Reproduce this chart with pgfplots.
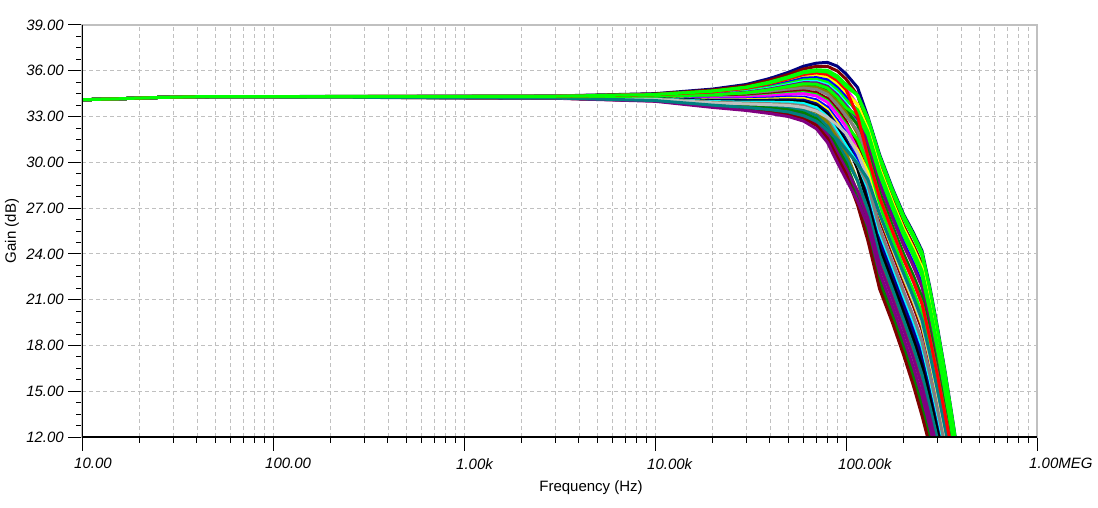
\documentclass[border=0pt]{standalone}
\usepackage{fontspec}
\setmainfont{Liberation Sans}
\usepackage{pgfplots}
\pgfplotsset{compat=1.18}
\definecolor{cnavy}{RGB}{0,0,128}
\definecolor{cmaroon}{RGB}{128,0,0}
\definecolor{clime}{RGB}{0,255,0}
\definecolor{cmagenta}{RGB}{255,0,255}
\definecolor{cyellow}{RGB}{255,255,0}
\definecolor{cblue}{RGB}{0,0,255}
\definecolor{ccyan}{RGB}{0,255,255}
\definecolor{cpurple}{RGB}{128,0,128}
\definecolor{cdkgreen}{RGB}{0,128,0}
\definecolor{colive}{RGB}{128,128,0}
\definecolor{cgrey}{RGB}{128,128,128}
\definecolor{csilver}{RGB}{192,192,192}
\definecolor{cteal}{RGB}{0,128,128}
\definecolor{cred}{RGB}{255,0,0}
\definecolor{gridgray}{RGB}{192,192,192}
\begin{document}
\begin{tikzpicture}
\begin{axis}[
  scale only axis, width=955pt, height=412pt,
  xmode=log, log basis x=10,
  xmin=10, xmax=1000000, ymin=12, ymax=39,
  axis line style={gridgray, line width=1.2pt},
  xtick pos=left, ytick pos=left,
  tick align=inside,
  xtick={10,100,1000,10000,100000,1000000},
  xticklabels={10.00,100.00,1.00k,10.00k,100.00k,1.00MEG},
  minor xtick={20,30,40,50,60,70,80,90,200,300,400,500,600,700,800,900,2000,3000,4000,5000,6000,7000,8000,9000,20000,30000,40000,50000,60000,70000,80000,90000,200000,300000,400000,500000,600000,700000,800000,900000},
  ytick={12,15,18,21,24,27,30,33,36,39},
  yticklabels={12.00,15.00,18.00,21.00,24.00,27.00,30.00,33.00,36.00,39.00},
  minor y tick num=3,
  major tick length=-14pt, minor tick length=-6pt,
  tick style={black, line width=1pt},
  xmajorgrids=true, xminorgrids=true, ymajorgrids=true, yminorgrids=false,
  grid style={color=gridgray, line width=0.9pt, dash pattern=on 4pt off 3pt},
  xticklabel style={font=\fontsize{15}{18}\selectfont\itshape, anchor=north west, inner sep=0pt, xshift=-8pt, yshift=-21pt},
  yticklabel style={font=\fontsize{15}{18}\selectfont\itshape, anchor=east, inner sep=0pt, xshift=-18pt},
  xlabel={Frequency (Hz)},
  ylabel={Gain (dB)},
  every axis x label/.style={at={(axis description cs:0.533,0)}, anchor=center, yshift=-51pt, font=\fontsize{15}{18}\selectfont},
  every axis y label/.style={at={(axis description cs:0,0.5)}, anchor=center, xshift=-70pt, rotate=90, font=\fontsize{15}{18}\selectfont},
  every axis plot/.append style={line width=3pt, line join=round, mark=none},
]
\addplot[colive] coordinates {(10,34.1)(15,34.16)(25,34.25)(40,34.3)(3000,34.21)(10000,34.04)(20000,33.7)(30000,33.54)(40000,33.38)(50000,33.23)(60000,32.99)(70000,32.54)(80000,31.72)(90000,30.5)(100000,29.45)(115000,27.63)(130000,25.55)(150000,22.4)(175000,20.2)(200000,18.14)(225000,16.2)(250000,14.26)(275000,12.23)(300000,10.28)};
\addplot[cdkgreen] coordinates {(10,34.1)(15,34.16)(25,34.25)(40,34.3)(3000,34.22)(10000,34.06)(20000,33.74)(30000,33.6)(40000,33.48)(50000,33.35)(60000,33.13)(70000,32.72)(80000,31.93)(90000,30.76)(100000,29.73)(115000,27.32)(130000,25.22)(150000,22.05)(175000,19.85)(200000,17.77)(225000,15.8)(250000,13.83)(275000,11.82)};
\addplot[cnavy] coordinates {(10,34.1)(15,34.16)(25,34.25)(40,34.3)(3000,34.35)(10000,34.5)(20000,34.8)(30000,35.1)(40000,35.5)(50000,35.9)(60000,36.3)(70000,36.5)(80000,36.55)(90000,36.3)(100000,35.8)(115000,34.9)(130000,33.0)(150000,30.5)(175000,28.3)(200000,26.6)(225000,25.4)(250000,24.2)(275000,21.8)(300000,19.3)(330000,16.3)(360000,13.3)(400000,9.5)};
\addplot[cmaroon] coordinates {(10,34.1)(15,34.16)(25,34.25)(40,34.3)(3000,34.34)(10000,34.48)(20000,34.74)(30000,35.02)(40000,35.39)(50000,35.76)(60000,36.12)(70000,36.29)(80000,36.29)(90000,35.99)(100000,35.46)(115000,34.39)(130000,32.35)(150000,29.8)(175000,27.6)(200000,25.86)(225000,24.6)(250000,23.34)(275000,20.97)(300000,18.52)(330000,15.6)(360000,12.72)(400000,9.06)};
\addplot[clime] coordinates {(10,34.1)(15,34.16)(25,34.25)(40,34.3)(3000,34.34)(10000,34.45)(20000,34.68)(30000,34.93)(40000,35.27)(50000,35.61)(60000,35.94)(70000,36.07)(80000,36.03)(90000,35.67)(100000,35.11)(115000,34.39)(130000,32.76)(150000,30.24)(175000,28.04)(200000,26.32)(225000,25.1)(250000,23.88)(275000,21.49)(300000,19.0)(330000,16.04)(360000,13.08)(400000,9.34)};
\addplot[cmagenta] coordinates {(10,34.1)(15,34.16)(25,34.25)(40,34.3)(3000,34.33)(10000,34.43)(20000,34.63)(30000,34.86)(40000,35.18)(50000,35.49)(60000,35.8)(70000,35.9)(80000,35.82)(90000,35.42)(100000,34.83)(115000,33.76)(130000,31.79)(150000,29.18)(175000,26.98)(200000,25.22)(225000,23.9)(250000,22.58)(275000,20.24)(300000,17.83)(330000,14.98)(360000,12.2)(400000,8.68)};
\addplot[cyellow] coordinates {(10,34.1)(15,34.16)(25,34.25)(40,34.3)(3000,34.32)(10000,34.41)(20000,34.58)(30000,34.79)(40000,35.09)(50000,35.38)(60000,35.65)(70000,35.73)(80000,35.6)(90000,35.17)(100000,34.56)(115000,33.79)(130000,32.19)(150000,29.62)(175000,27.42)(200000,25.68)(225000,24.4)(250000,23.12)(275000,20.76)(300000,18.32)(330000,15.42)(360000,12.57)(400000,8.95)};
\addplot[cblue] coordinates {(10,34.1)(15,34.16)(25,34.25)(40,34.3)(3000,34.32)(10000,34.39)(20000,34.54)(30000,34.73)(40000,34.99)(50000,35.26)(60000,35.51)(70000,35.55)(80000,35.4)(90000,34.91)(100000,34.28)(115000,33.24)(130000,31.38)(150000,28.74)(175000,26.54)(200000,24.76)(225000,23.4)(250000,22.04)(275000,19.72)(300000,17.34)(330000,14.54)(360000,11.84)(400000,8.4)};
\addplot[clime] coordinates {(10,34.1)(15,34.16)(25,34.25)(40,34.3)(3000,34.31)(10000,34.38)(20000,34.5)(30000,34.68)(40000,34.93)(50000,35.18)(60000,35.4)(70000,35.43)(80000,35.24)(90000,34.73)(100000,34.08)(115000,33.44)(130000,32.03)(150000,29.44)(175000,27.24)(200000,25.5)(225000,24.2)(250000,22.9)(275000,20.55)(300000,18.12)(330000,15.24)(360000,12.42)(400000,8.84)};
\addplot[ccyan] coordinates {(10,34.1)(15,34.16)(25,34.25)(40,34.3)(3000,34.31)(10000,34.36)(20000,34.46)(30000,34.62)(40000,34.86)(50000,35.09)(60000,35.29)(70000,35.3)(80000,35.08)(90000,34.54)(100000,33.87)(115000,32.61)(130000,30.57)(150000,27.86)(175000,25.66)(200000,23.84)(225000,22.4)(250000,20.96)(275000,18.68)(300000,16.36)(330000,13.66)(360000,11.11)(400000,7.85)};
\addplot[cpurple] coordinates {(10,34.1)(15,34.16)(25,34.25)(40,34.3)(3000,34.31)(10000,34.35)(20000,34.44)(30000,34.59)(40000,34.81)(50000,35.03)(60000,35.22)(70000,35.21)(80000,34.98)(90000,34.41)(100000,33.73)(115000,32.85)(130000,31.22)(150000,28.56)(175000,26.36)(200000,24.58)(225000,23.2)(250000,21.82)(275000,19.51)(300000,17.14)(330000,14.36)(360000,11.69)(400000,8.29)};
\addplot[cdkgreen] coordinates {(10,34.1)(15,34.16)(25,34.25)(40,34.3)(3000,34.3)(10000,34.33)(20000,34.39)(30000,34.52)(40000,34.72)(50000,34.91)(60000,35.08)(70000,35.04)(80000,34.77)(90000,34.16)(100000,33.45)(115000,32.45)(130000,30.73)(150000,28.04)(175000,25.84)(200000,24.02)(225000,22.6)(250000,21.18)(275000,18.89)(300000,16.56)(330000,13.84)(360000,11.26)(400000,7.96)};
\addplot[colive] coordinates {(10,34.1)(15,34.16)(25,34.25)(40,34.3)(3000,34.29)(10000,34.32)(20000,34.36)(30000,34.47)(40000,34.65)(50000,34.83)(60000,34.97)(70000,34.91)(80000,34.61)(90000,33.97)(100000,33.25)(115000,31.86)(130000,29.76)(150000,26.98)(175000,24.78)(200000,22.92)(225000,21.4)(250000,19.88)(275000,17.64)(300000,15.38)(330000,12.78)(360000,10.38)(400000,7.3)};
\addplot[cgrey] coordinates {(10,34.1)(15,34.16)(25,34.25)(40,34.3)(3000,34.29)(10000,34.3)(20000,34.32)(30000,34.42)(40000,34.58)(50000,34.74)(60000,34.86)(70000,34.78)(80000,34.45)(90000,33.78)(100000,33.04)(115000,32.06)(130000,30.41)(150000,27.68)(175000,25.48)(200000,23.66)(225000,22.2)(250000,20.74)(275000,18.47)(300000,16.16)(330000,13.48)(360000,10.96)(400000,7.74)};
\addplot[cmaroon] coordinates {(10,34.1)(15,34.16)(25,34.25)(40,34.3)(3000,34.28)(10000,34.28)(20000,34.26)(30000,34.34)(40000,34.47)(50000,34.6)(60000,34.68)(70000,34.57)(80000,34.19)(90000,33.47)(100000,32.7)(115000,31.23)(130000,29.11)(150000,26.28)(175000,24.08)(200000,22.18)(225000,20.6)(250000,19.02)(275000,16.81)(300000,14.6)(330000,12.08)(360000,9.8)};
\addplot[clime] coordinates {(10,34.1)(15,34.16)(25,34.25)(40,34.3)(3000,34.28)(10000,34.26)(20000,34.22)(30000,34.28)(40000,34.4)(50000,34.51)(60000,34.57)(70000,34.44)(80000,34.03)(90000,33.28)(100000,32.49)(115000,31.5)(130000,29.92)(150000,27.16)(175000,24.96)(200000,23.1)(225000,21.6)(250000,20.1)(275000,17.85)(300000,15.58)(330000,12.96)(360000,10.53)};
\addplot[cmagenta] coordinates {(10,34.1)(15,34.16)(25,34.25)(40,34.3)(3000,34.28)(10000,34.25)(20000,34.2)(30000,34.25)(40000,34.35)(50000,34.45)(60000,34.5)(70000,34.35)(80000,33.93)(90000,33.15)(100000,32.35)(115000,30.75)(130000,28.55)(150000,25.66)(175000,23.46)(200000,21.54)(225000,19.9)(250000,18.26)(275000,16.08)(300000,13.91)(330000,11.46)(360000,9.29)};
\addplot[cblue] coordinates {(10,34.1)(15,34.16)(25,34.25)(40,34.3)(3000,34.27)(10000,34.22)(20000,34.13)(30000,34.15)(40000,34.21)(50000,34.28)(60000,34.28)(70000,34.09)(80000,33.61)(90000,32.77)(100000,31.94)(115000,30.32)(130000,28.14)(150000,25.22)(175000,23.02)(200000,21.08)(225000,19.4)(250000,17.72)(275000,15.56)(300000,13.42)(330000,11.02)(360000,8.92)};
\addplot[cyellow] coordinates {(10,34.1)(15,34.16)(25,34.25)(40,34.3)(3000,34.26)(10000,34.21)(20000,34.09)(30000,34.1)(40000,34.14)(50000,34.19)(60000,34.18)(70000,33.96)(80000,33.45)(90000,32.58)(100000,31.73)(115000,30.79)(130000,29.36)(150000,26.54)(175000,24.34)(200000,22.46)(225000,20.9)(250000,19.34)(275000,17.12)(300000,14.89)(330000,12.34)(360000,10.02)};
\addplot[cnavy] coordinates {(10,34.1)(15,34.16)(25,34.25)(40,34.3)(3000,34.26)(10000,34.19)(20000,34.06)(30000,34.05)(40000,34.07)(50000,34.1)(60000,34.07)(70000,33.83)(80000,33.3)(90000,32.39)(100000,31.52)(115000,29.88)(130000,27.74)(150000,24.78)(175000,22.58)(200000,20.62)(225000,18.9)(250000,17.18)(275000,15.04)(300000,12.93)(330000,10.58)};
\addplot[black] coordinates {(10,34.1)(15,34.16)(25,34.25)(40,34.3)(3000,34.25)(10000,34.18)(20000,34.02)(30000,34.0)(40000,34.01)(50000,34.02)(60000,33.96)(70000,33.71)(80000,33.14)(90000,32.21)(100000,31.32)(115000,29.57)(130000,27.33)(150000,24.34)(175000,22.14)(200000,20.16)(225000,18.4)(250000,16.64)(275000,14.52)(300000,12.44)(330000,10.14)};
\addplot[ccyan] coordinates {(10,34.1)(15,34.16)(25,34.25)(40,34.3)(3000,34.25)(10000,34.16)(20000,33.98)(30000,33.94)(40000,33.94)(50000,33.93)(60000,33.85)(70000,33.58)(80000,32.98)(90000,32.02)(100000,31.11)(115000,29.92)(130000,28.3)(150000,25.4)(175000,23.2)(200000,21.26)(225000,19.6)(250000,17.94)(275000,15.77)(300000,13.62)(330000,11.2)};
\addplot[cgrey] coordinates {(10,34.1)(15,34.16)(25,34.25)(40,34.3)(3000,34.24)(10000,34.14)(20000,33.94)(30000,33.88)(40000,33.84)(50000,33.81)(60000,33.71)(70000,33.4)(80000,32.77)(90000,31.76)(100000,30.83)(115000,29.88)(130000,28.55)(150000,25.66)(175000,23.46)(200000,21.54)(225000,19.9)(250000,18.26)(275000,16.08)(300000,13.91)(330000,11.46)};
\addplot[colive] coordinates {(10,34.1)(15,34.16)(25,34.25)(40,34.3)(3000,34.24)(10000,34.13)(20000,33.9)(30000,33.83)(40000,33.78)(50000,33.73)(60000,33.6)(70000,33.28)(80000,32.61)(90000,31.58)(100000,30.63)(115000,28.78)(130000,26.52)(150000,23.46)(175000,21.26)(200000,19.24)(225000,17.4)(250000,15.56)(275000,13.48)(300000,11.46)(330000,9.26)};
\addplot[cteal] coordinates {(10,34.1)(15,34.16)(25,34.25)(40,34.3)(3000,34.23)(10000,34.1)(20000,33.84)(30000,33.74)(40000,33.66)(50000,33.58)(60000,33.42)(70000,33.06)(80000,32.35)(90000,31.26)(100000,30.28)(115000,28.78)(130000,26.93)(150000,23.9)(175000,21.7)(200000,19.7)(225000,17.9)(250000,16.1)(275000,14.0)(300000,11.95)(330000,9.7)};
\addplot[cdkgreen] coordinates {(10,34.1)(15,34.16)(25,34.25)(40,34.3)(3000,34.22)(10000,34.08)(20000,33.78)(30000,33.66)(40000,33.55)(50000,33.44)(60000,33.24)(70000,32.85)(80000,32.09)(90000,30.95)(100000,29.94)(115000,27.99)(130000,25.71)(150000,22.58)(175000,20.38)(200000,18.32)(225000,16.4)(250000,14.48)(275000,12.44)(300000,10.48)};
\addplot[cpurple] coordinates {(10,34.1)(15,34.16)(25,34.25)(40,34.3)(3000,34.22)(10000,34.05)(20000,33.72)(30000,33.57)(40000,33.43)(50000,33.29)(60000,33.06)(70000,32.63)(80000,31.83)(90000,30.63)(100000,29.59)(115000,28.11)(130000,26.36)(150000,23.28)(175000,21.08)(200000,19.06)(225000,17.2)(250000,15.34)(275000,13.27)(300000,11.26)(330000,9.08)};
\addplot[cmaroon] coordinates {(10,34.1)(15,34.16)(25,34.25)(40,34.3)(3000,34.21)(10000,34.03)(20000,33.66)(30000,33.49)(40000,33.32)(50000,33.15)(60000,32.88)(70000,32.42)(80000,31.56)(90000,30.32)(100000,29.25)(115000,27.2)(130000,24.9)(150000,21.7)(175000,19.5)(200000,17.4)(225000,15.4)(250000,13.4)(275000,11.4)(300000,9.5)};
\addplot[cpurple] coordinates {(10,34.1)(15,34.16)(25,34.25)(40,34.3)(3000,34.2)(10000,34.0)(20000,33.6)(30000,33.4)(40000,33.2)(50000,33.0)(60000,32.7)(70000,32.2)(80000,31.3)(90000,30.0)(100000,28.9)(115000,27.47)(130000,25.87)(150000,22.76)(175000,20.56)(200000,18.5)(225000,16.6)(250000,14.7)(275000,12.65)(300000,10.68)};
\addplot[csilver] coordinates {(10,34.1)(15,34.16)(25,34.25)(40,34.3)(3000,34.24)(10000,34.13)(20000,33.9)(30000,33.83)(40000,33.78)(50000,33.73)(60000,33.6)(70000,33.35)(80000,32.95)(90000,32.45)(100000,31.9)(115000,30.6)(130000,29.0)(150000,26.63)(175000,24.43)(200000,22.55)(225000,21.0)(250000,19.45)(275000,17.22)(300000,14.99)(330000,12.43)(360000,10.1)};
\addplot[cteal] coordinates {(10,34.1)(15,34.16)(25,34.25)(40,34.3)(3000,34.22)(10000,34.05)(20000,33.75)(30000,33.6)(40000,33.45)(50000,33.3)(60000,33.05)(70000,32.7)(80000,32.1)(90000,31.5)(100000,30.85)(115000,29.9)(130000,28.9)(150000,26.6)(175000,24.5)(200000,22.74)(225000,21.2)(250000,19.66)(275000,17.43)(300000,15.18)(330000,12.6)(360000,10.23)};
\addplot[clime] coordinates {(10,34.1)(15,34.16)(25,34.25)(40,34.3)(3000,34.3)(10000,34.34)(20000,34.42)(30000,34.56)(40000,34.76)(50000,34.97)(60000,35.15)(70000,35.12)(80000,34.87)(90000,34.28)(100000,33.59)(115000,33.04)(130000,31.79)(150000,29.18)(175000,26.98)(200000,25.22)(225000,23.9)(250000,22.58)(275000,20.24)(300000,17.83)(330000,14.98)(360000,12.2)(400000,8.68)};
\addplot[cred] coordinates {(10,34.1)(15,34.16)(25,34.25)(40,34.3)(3000,34.33)(10000,34.43)(20000,34.62)(30000,34.85)(40000,35.16)(50000,35.47)(60000,35.76)(70000,35.86)(80000,35.76)(90000,35.36)(100000,34.77)(115000,33.04)(130000,30.41)(150000,27.68)(175000,25.48)(200000,23.66)(225000,22.2)(250000,20.74)(275000,18.47)(300000,16.16)(330000,13.48)(360000,10.96)};
\addplot[clime] coordinates {(10,34.1)(15,34.16)(25,34.25)(40,34.3)(3000,34.33)(10000,34.44)(20000,34.66)(30000,34.9)(40000,35.22)(50000,35.55)(60000,35.87)(70000,35.98)(80000,35.92)(90000,35.54)(100000,34.97)(115000,34.39)(130000,32.92)(150000,30.41)(175000,28.21)(200000,26.51)(225000,25.3)(250000,24.09)(275000,21.7)(300000,19.2)(330000,16.21)(360000,13.23)(400000,9.45)};
\draw[black, line width=1.4pt] (rel axis cs:0,1) -- (rel axis cs:0,0) -- (rel axis cs:1,0);
\end{axis}
\pgfresetboundingbox
\path[use as bounding box] (-82pt,-70pt) rectangle (1016pt,437pt);
\end{tikzpicture}
\end{document}
